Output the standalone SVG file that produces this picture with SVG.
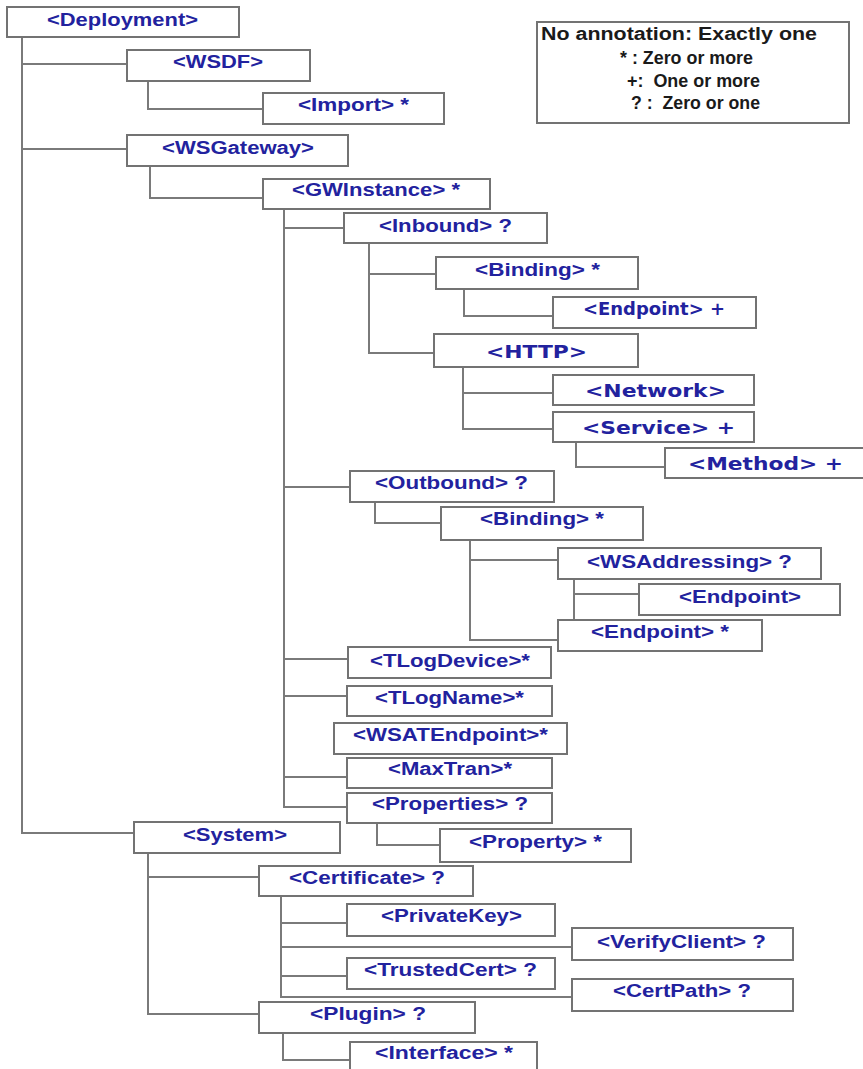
<svg xmlns="http://www.w3.org/2000/svg" width="863" height="1069" viewBox="0 0 863 1069">
<style>
.b{fill:#fff;stroke:#737373;stroke-width:2}
.t{font-family:"Liberation Sans",Arial,sans-serif;font-weight:bold;font-size:18px;fill:#22229e}
.d{font-family:"DejaVu Sans",sans-serif;font-weight:bold;font-size:17px;fill:#22229e}
.l{font-family:"Liberation Sans",Arial,sans-serif;font-weight:bold;font-size:18px;fill:#1a1a1a}
.c{fill:none;stroke:#7a7a7a;stroke-width:2}
</style>
<rect width="863" height="1069" fill="#fff"/>
<g id="connectors" class="c">
<path d="M22 37V833H134"/>
<path d="M22 64H127M22 149H127"/>
<path d="M148 81V109H263"/>
<path d="M150 166V198H263"/>
<path d="M284 209V807H347M284 228H344M284 487H350M284 659H348M284 696H347M284 777H347"/>
<path d="M369 243V353H434M369 274H436"/>
<path d="M464 289V316H553"/>
<path d="M463 367V429H553M463 393H553"/>
<path d="M576 442V467H665"/>
<path d="M375 502V523H441"/>
<path d="M470 540V640H558M470 560H558"/>
<path d="M574 579V620M574 594H639"/>
<path d="M377 823V845H440"/>
<path d="M148 853V1014H259M148 877H259"/>
<path d="M281 896V997H572M281 923H347M281 947H572M281 976H347"/>
<path d="M283 1033V1060H350"/>
</g>
<g id="legend">
<rect class="b" x="537" y="22" width="312" height="101"/>
<text class="l" x="541" y="40" textLength="276" lengthAdjust="spacingAndGlyphs">No annotation: Exactly one</text>
<text class="l" x="620" y="64" textLength="133" lengthAdjust="spacingAndGlyphs">* : Zero or more</text>
<text class="l" x="627" y="87" textLength="133" lengthAdjust="spacingAndGlyphs" xml:space="preserve">+:  One or more</text>
<text class="l" x="631" y="109" textLength="129" lengthAdjust="spacingAndGlyphs" xml:space="preserve">? :  Zero or one</text>
</g>
<g id="deployment"><rect class="b" x="7" y="7" width="232" height="30"/><text class="t" x="47" y="26" textLength="151" lengthAdjust="spacingAndGlyphs">&lt;Deployment&gt;</text></g>
<g id="wsdf"><rect class="b" x="127" y="50" width="183" height="31"/><text class="t" x="173" y="68" textLength="90" lengthAdjust="spacingAndGlyphs">&lt;WSDF&gt;</text></g>
<g id="import"><rect class="b" x="263" y="93" width="181" height="31"/><text class="t" x="298" y="111" textLength="111" lengthAdjust="spacingAndGlyphs">&lt;Import&gt; *</text></g>
<g id="wsgateway"><rect class="b" x="127" y="135" width="221" height="31"/><text class="t" x="162" y="154" textLength="152" lengthAdjust="spacingAndGlyphs">&lt;WSGateway&gt;</text></g>
<g id="gwinstance"><rect class="b" x="263" y="179" width="227" height="30"/><text class="t" x="292" y="196" textLength="168" lengthAdjust="spacingAndGlyphs">&lt;GWInstance&gt; *</text></g>
<g id="inbound"><rect class="b" x="344" y="213" width="203" height="30"/><text class="t" x="379" y="232" textLength="133" lengthAdjust="spacingAndGlyphs">&lt;Inbound&gt; ?</text></g>
<g id="binding1"><rect class="b" x="436" y="257" width="202" height="32"/><text class="t" x="475" y="276" textLength="125" lengthAdjust="spacingAndGlyphs">&lt;Binding&gt; *</text></g>
<g id="endpoint1"><rect class="b" x="553" y="297" width="203" height="31"/><text class="d" x="583" y="315" textLength="142" lengthAdjust="spacingAndGlyphs">&lt;Endpoint&gt; +</text></g>
<g id="http"><rect class="b" x="434" y="334" width="204" height="33"/><text class="d" x="486" y="358" textLength="101" lengthAdjust="spacingAndGlyphs">&lt;HTTP&gt;</text></g>
<g id="network"><rect class="b" x="553" y="375" width="201" height="30"/><text class="d" x="585" y="397" textLength="141" lengthAdjust="spacingAndGlyphs">&lt;Network&gt;</text></g>
<g id="service"><rect class="b" x="553" y="412" width="201" height="30"/><text class="d" x="582" y="434" textLength="153" lengthAdjust="spacingAndGlyphs">&lt;Service&gt; +</text></g>
<g id="method"><rect class="b" x="665" y="448" width="205" height="30"/><text class="d" x="688" y="470" textLength="155" lengthAdjust="spacingAndGlyphs">&lt;Method&gt; +</text></g>
<g id="outbound"><rect class="b" x="350" y="471" width="204" height="31"/><text class="t" x="375" y="489" textLength="153" lengthAdjust="spacingAndGlyphs">&lt;Outbound&gt; ?</text></g>
<g id="binding2"><rect class="b" x="441" y="507" width="202" height="33"/><text class="t" x="480" y="525" textLength="124" lengthAdjust="spacingAndGlyphs">&lt;Binding&gt; *</text></g>
<g id="wsaddressing"><rect class="b" x="558" y="548" width="263" height="31"/><text class="t" x="587" y="568" textLength="205" lengthAdjust="spacingAndGlyphs">&lt;WSAddressing&gt; ?</text></g>
<g id="endpoint2"><rect class="b" x="639" y="584" width="201" height="31"/><text class="t" x="679" y="603" textLength="122" lengthAdjust="spacingAndGlyphs">&lt;Endpoint&gt;</text></g>
<g id="endpoint3"><rect class="b" x="558" y="620" width="204" height="31"/><text class="t" x="591" y="638" textLength="138" lengthAdjust="spacingAndGlyphs">&lt;Endpoint&gt; *</text></g>
<g id="tlogdevice"><rect class="b" x="348" y="647" width="203" height="31"/><text class="t" x="370" y="667" textLength="160" lengthAdjust="spacingAndGlyphs">&lt;TLogDevice&gt;*</text></g>
<g id="tlogname"><rect class="b" x="347" y="686" width="205" height="30"/><text class="t" x="375" y="704" textLength="149" lengthAdjust="spacingAndGlyphs">&lt;TLogName&gt;*</text></g>
<g id="wsatendpoint"><rect class="b" x="334" y="723" width="233" height="31"/><text class="t" x="353" y="741" textLength="195" lengthAdjust="spacingAndGlyphs">&lt;WSATEndpoint&gt;*</text></g>
<g id="maxtran"><rect class="b" x="347" y="758" width="205" height="30"/><text class="t" x="388" y="775" textLength="124" lengthAdjust="spacingAndGlyphs">&lt;MaxTran&gt;*</text></g>
<g id="properties"><rect class="b" x="347" y="793" width="205" height="30"/><text class="t" x="372" y="810" textLength="156" lengthAdjust="spacingAndGlyphs">&lt;Properties&gt; ?</text></g>
<g id="property"><rect class="b" x="440" y="829" width="191" height="33"/><text class="t" x="469" y="848" textLength="133" lengthAdjust="spacingAndGlyphs">&lt;Property&gt; *</text></g>
<g id="system"><rect class="b" x="134" y="822" width="206" height="31"/><text class="t" x="183" y="841" textLength="104" lengthAdjust="spacingAndGlyphs">&lt;System&gt;</text></g>
<g id="certificate"><rect class="b" x="259" y="866" width="214" height="30"/><text class="t" x="289" y="884" textLength="156" lengthAdjust="spacingAndGlyphs">&lt;Certificate&gt; ?</text></g>
<g id="privatekey"><rect class="b" x="347" y="904" width="208" height="32"/><text class="t" x="381" y="922" textLength="141" lengthAdjust="spacingAndGlyphs">&lt;PrivateKey&gt;</text></g>
<g id="verifyclient"><rect class="b" x="572" y="928" width="221" height="32"/><text class="t" x="597" y="948" textLength="169" lengthAdjust="spacingAndGlyphs">&lt;VerifyClient&gt; ?</text></g>
<g id="trustedcert"><rect class="b" x="347" y="958" width="208" height="31"/><text class="t" x="364" y="976" textLength="173" lengthAdjust="spacingAndGlyphs">&lt;TrustedCert&gt; ?</text></g>
<g id="certpath"><rect class="b" x="572" y="979" width="221" height="32"/><text class="t" x="613" y="997" textLength="138" lengthAdjust="spacingAndGlyphs">&lt;CertPath&gt; ?</text></g>
<g id="plugin"><rect class="b" x="259" y="1002" width="216" height="31"/><text class="t" x="310" y="1020" textLength="116" lengthAdjust="spacingAndGlyphs">&lt;Plugin&gt; ?</text></g>
<g id="interface"><rect class="b" x="350" y="1042" width="187" height="34"/><text class="t" x="375" y="1059" textLength="138" lengthAdjust="spacingAndGlyphs">&lt;Interface&gt; *</text></g>
</svg>
